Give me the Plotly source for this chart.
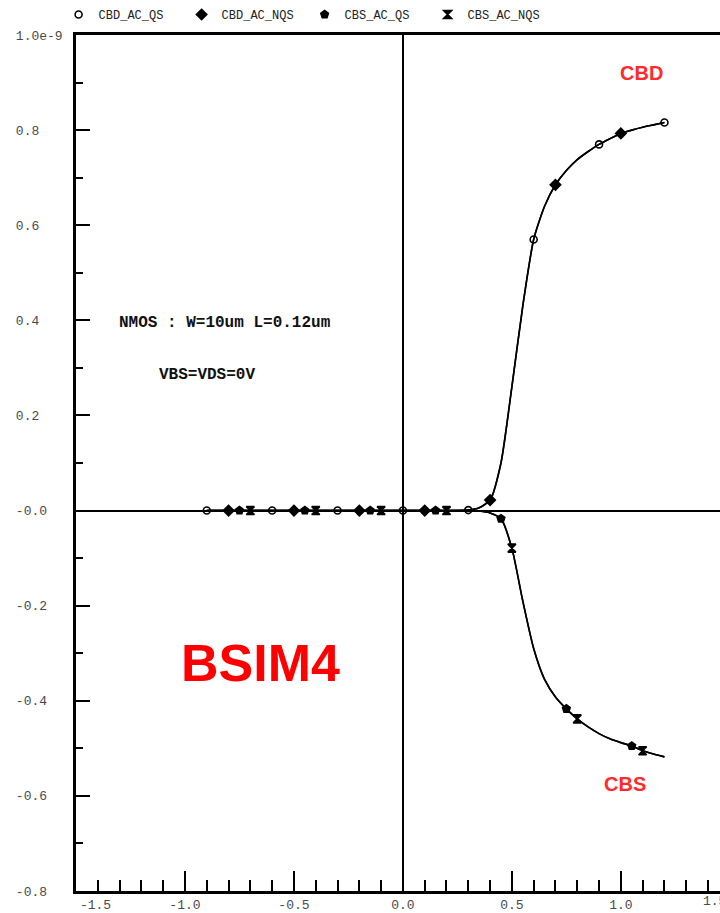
import plotly.graph_objects as go

# Gate-voltage sweep (V) and simulated capacitances (units of 1e-9)
vgs = [round(-0.9 + 0.05 * i, 2) for i in range(43)]

cbd_ac_qs = [0.0] * 24 + [
    0.001, 0.006, 0.022, 0.10, 0.26, 0.43, 0.57, 0.64, 0.685, 0.715,
    0.738, 0.755, 0.77, 0.782, 0.793, 0.80, 0.806, 0.811, 0.816,
]
cbd_ac_nqs = [0.0] * 24 + [
    0.001, 0.006, 0.022, 0.10, 0.26, 0.43, 0.57, 0.64, 0.685, 0.715,
    0.738, 0.755, 0.77, 0.782, 0.793, 0.80, 0.806, 0.811, 0.816,
]
cbs_ac_qs = [0.0] * 25 + [
    -0.001, -0.005, -0.017, -0.079, -0.19, -0.29, -0.355, -0.392, -0.417,
    -0.438, -0.455, -0.469, -0.48, -0.488, -0.495, -0.505, -0.512, -0.518,
]
cbs_ac_nqs = [0.0] * 25 + [
    -0.001, -0.005, -0.017, -0.079, -0.19, -0.29, -0.355, -0.392, -0.417,
    -0.438, -0.455, -0.469, -0.48, -0.488, -0.495, -0.505, -0.512, -0.518,
]

series_names = ["CBD_AC_QS", "CBD_AC_NQS", "CBS_AC_QS", "CBS_AC_NQS"]
series_values = [cbd_ac_qs, cbd_ac_nqs, cbs_ac_qs, cbs_ac_nqs]
marker_offsets = [0, 2, 3, 4]      # first sample carrying a marker
marker_step = 6                    # a marker on every 6th sample
symbols = ["circle-open", "diamond", "pentagon", "hourglass"]

y_tickvals = [1.0, 0.8, 0.6, 0.4, 0.2, 0.0, -0.2, -0.4, -0.6, -0.8]
y_ticktext = ["1.0e-9", "0.8", "0.6", "0.4", "0.2", "-0.0",
              "-0.2", "-0.4", "-0.6", "-0.8"]
x_tickvals = [-1.5, -1.0, -0.5, 0.0, 0.5, 1.0]
x_ticktext = ["-1.5", "-1.0", "-0.5", "0.0", "0.5", "1.0"]

NB = "\u00a0"
MONO = "Liberation Mono"
TICK_FONT = dict(family=MONO, size=13, color="#4a4a4a")

fig = go.Figure()

# smooth curves
for name, vals in zip(series_names, series_values):
    fig.add_trace(go.Scatter(
        x=vgs, y=vals, mode="lines", showlegend=False, hoverinfo="skip",
        line=dict(color="black", width=1.6, shape="spline", smoothing=0.6),
    ))

# sparse markers on each curve
for name, vals, off, sym in zip(series_names, series_values, marker_offsets, symbols):
    open_sym = sym.endswith("open")
    fig.add_trace(go.Scatter(
        x=vgs[off::marker_step], y=vals[off::marker_step], mode="markers",
        name=name,
        marker=dict(symbol=sym, size=7 if open_sym else 8,
                    color="black",
                    line=dict(color="black", width=1.6)),
    ))

# left-aligned y labels (monospace, padded on the right)
w = max(len(t) for t in y_ticktext)
y_labels = [t + NB * (w - len(t)) for t in y_ticktext]
# first x label nudged inside the frame
x_labels = [NB * 5 + x_ticktext[0]] + x_ticktext[1:]

fig.update_xaxes(
    range=[-1.5, 1.455], showgrid=False,
    showline=True, linecolor="black", linewidth=2.5, mirror=True,
    zeroline=True, zerolinecolor="black", zerolinewidth=2,
    tickmode="array", tickvals=x_tickvals, ticktext=x_labels,
    ticks="inside", ticklen=20, tickwidth=2, tickcolor="black",
    minor=dict(ticks="inside", ticklen=11, tickwidth=2, tickcolor="black",
               tickmode="linear", tick0=0, dtick=0.1),
    tickfont=TICK_FONT,
)
fig.update_yaxes(
    range=[-0.8, 1.0], showgrid=False,
    showline=True, linecolor="black", linewidth=2.5,
    zeroline=True, zerolinecolor="black", zerolinewidth=2,
    tickmode="array", tickvals=y_tickvals, ticktext=y_labels,
    ticks="inside", ticklen=14, tickwidth=2, tickcolor="black",
    minor=dict(ticks="inside", ticklen=7, tickwidth=2, tickcolor="black",
               tickmode="linear", tick0=0, dtick=0.1),
    tickfont=TICK_FONT,
    ticklabelstandoff=8,
)

# last x label sits past the frame edge
fig.add_annotation(xref="paper", yref="paper", x=0.97, y=0, yshift=-10,
                   xanchor="left", yanchor="middle", showarrow=False,
                   text="1.5", font=TICK_FONT)

fig.add_annotation(x=-1.31, y=0.395, xanchor="left", showarrow=False,
                   text="<b>NMOS : W=10um L=0.12um</b>",
                   font=dict(family=MONO, size=16, color="#111111"))
fig.add_annotation(x=-1.13, y=0.285, xanchor="left", showarrow=False,
                   text="<b>VBS=VDS=0V</b>",
                   font=dict(family=MONO, size=16, color="#111111"))

RED_FONT = "Liberation Sans"
fig.add_annotation(x=1.096, y=0.92, showarrow=False, text="<b>CBD</b>",
                   font=dict(family=RED_FONT, size=20, color="#ff2a2a"))
fig.add_annotation(x=1.02, y=-0.575, showarrow=False, text="<b>CBS</b>",
                   font=dict(family=RED_FONT, size=20, color="#ff2a2a"))
fig.add_annotation(x=-0.655, y=-0.32, showarrow=False, text="<b>BSIM4</b>",
                   font=dict(family=RED_FONT, size=52, color="#ff0000"))

fig.update_layout(
    width=720, height=913,
    margin=dict(l=76, r=0, t=33, b=18),
    plot_bgcolor="white", paper_bgcolor="white",
    legend=dict(orientation="h", x=-0.027, xanchor="left",
                y=1.024, yanchor="middle",
                font=dict(family=MONO, size=12, color="#222222"),
                itemwidth=30, entrywidth=78, entrywidthmode="pixels",
                tracegroupgap=0, bgcolor="rgba(0,0,0,0)"),
)

fig.write_html("out.html")
